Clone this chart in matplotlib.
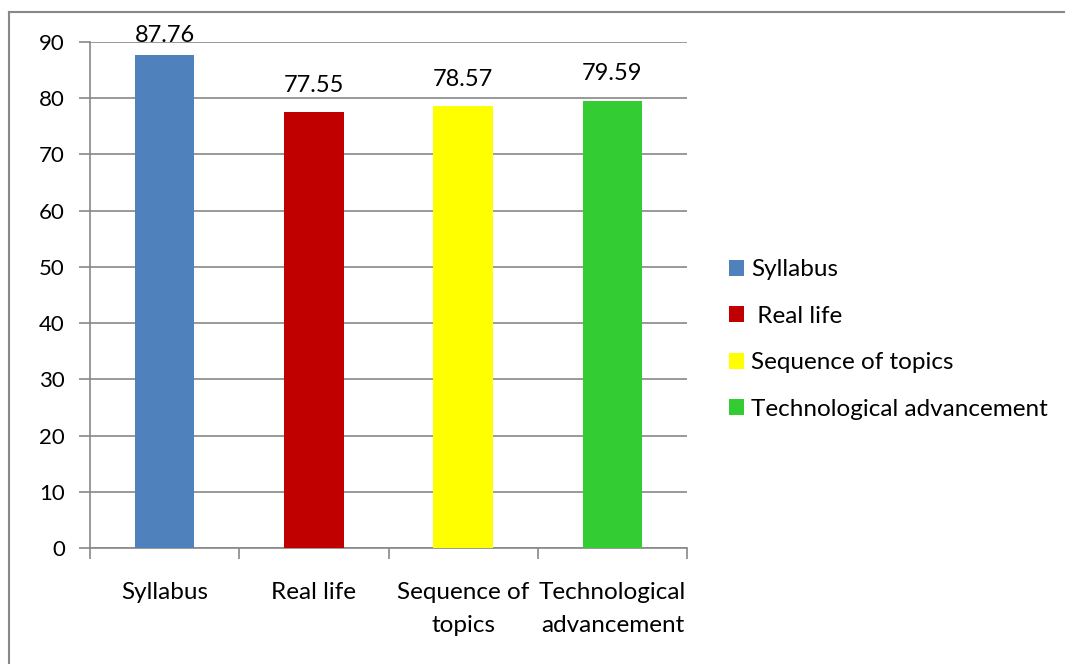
import matplotlib.pyplot as plt
from matplotlib.lines import Line2D
from matplotlib.patches import Patch

# data
categories = ["Syllabus", "Real life", "Sequence of topics", "Technological advancement"]
tick_labels = ["Syllabus", "Real life", "Sequence of\ntopics", "Technological\nadvancement"]
legend_labels = ["Syllabus", " Real life", "Sequence of topics", "Technological advancement"]
values = [87.76, 77.55, 78.57, 79.59]
colors = ["#4F81BD", "#C00000", "#FFFF00", "#33CC33"]

plt.rcParams["font.family"] = ["Lato", "DejaVu Sans"]
grey = "#888888"
fs = 17.5

fig = plt.figure(figsize=(10.65, 6.64), dpi=100)
ax = fig.add_axes([90 / 1065, 116 / 664, 597 / 1065, 506 / 664])

x = range(len(categories))
bars = ax.bar(x, values, width=0.4, color=colors, zorder=3)
for b, v in zip(bars, values):
    # Excel keeps the label inside the plot area
    ax.text(b.get_x() + b.get_width() / 2, min(v + 3.6, 90), f"{v:.2f}",
            ha="center", va="baseline", fontsize=17)

ax.set_xlim(-0.5, 3.5)
ax.set_ylim(0, 90)
ax.set_yticks(range(0, 91, 10))
ax.tick_params(axis="y", labelsize=16, color=grey, length=8, width=1.2, pad=10)
ax.yaxis.grid(True, color=grey, linewidth=1.2, zorder=0)
ax.set_axisbelow(True)

# category labels centered, ticks between categories
ax.set_xticks([-0.5, 0.5, 1.5, 2.5, 3.5])
ax.set_xticklabels([])
ax.tick_params(axis="x", color=grey, length=8, width=1.2)
for i, lab in enumerate(tick_labels):
    ax.text(i, -6.0, lab, ha="center", va="top", fontsize=fs, linespacing=1.7)

for s in ["top", "right"]:
    ax.spines[s].set_visible(False)
for s in ["left", "bottom"]:
    ax.spines[s].set_color(grey)
    ax.spines[s].set_linewidth(1.2)

handles = [Patch(facecolor=c, edgecolor="none") for c in colors]
leg = ax.legend(handles, legend_labels, loc="center left", bbox_to_anchor=(1.07, 0.412),
                frameon=False, fontsize=fs, labelspacing=1.05, handlelength=0.62,
                handleheight=0.62, handletextpad=0.3, borderpad=0, borderaxespad=0)

# outer border
fig.add_artist(Line2D([9 / 1065, 9 / 1065], [0, 1 - 12 / 664], color=grey, linewidth=1.5))
fig.add_artist(Line2D([9 / 1065, 1], [1 - 12 / 664, 1 - 12 / 664], color=grey, linewidth=1.5))

fig.savefig("out.png", dpi=100)
